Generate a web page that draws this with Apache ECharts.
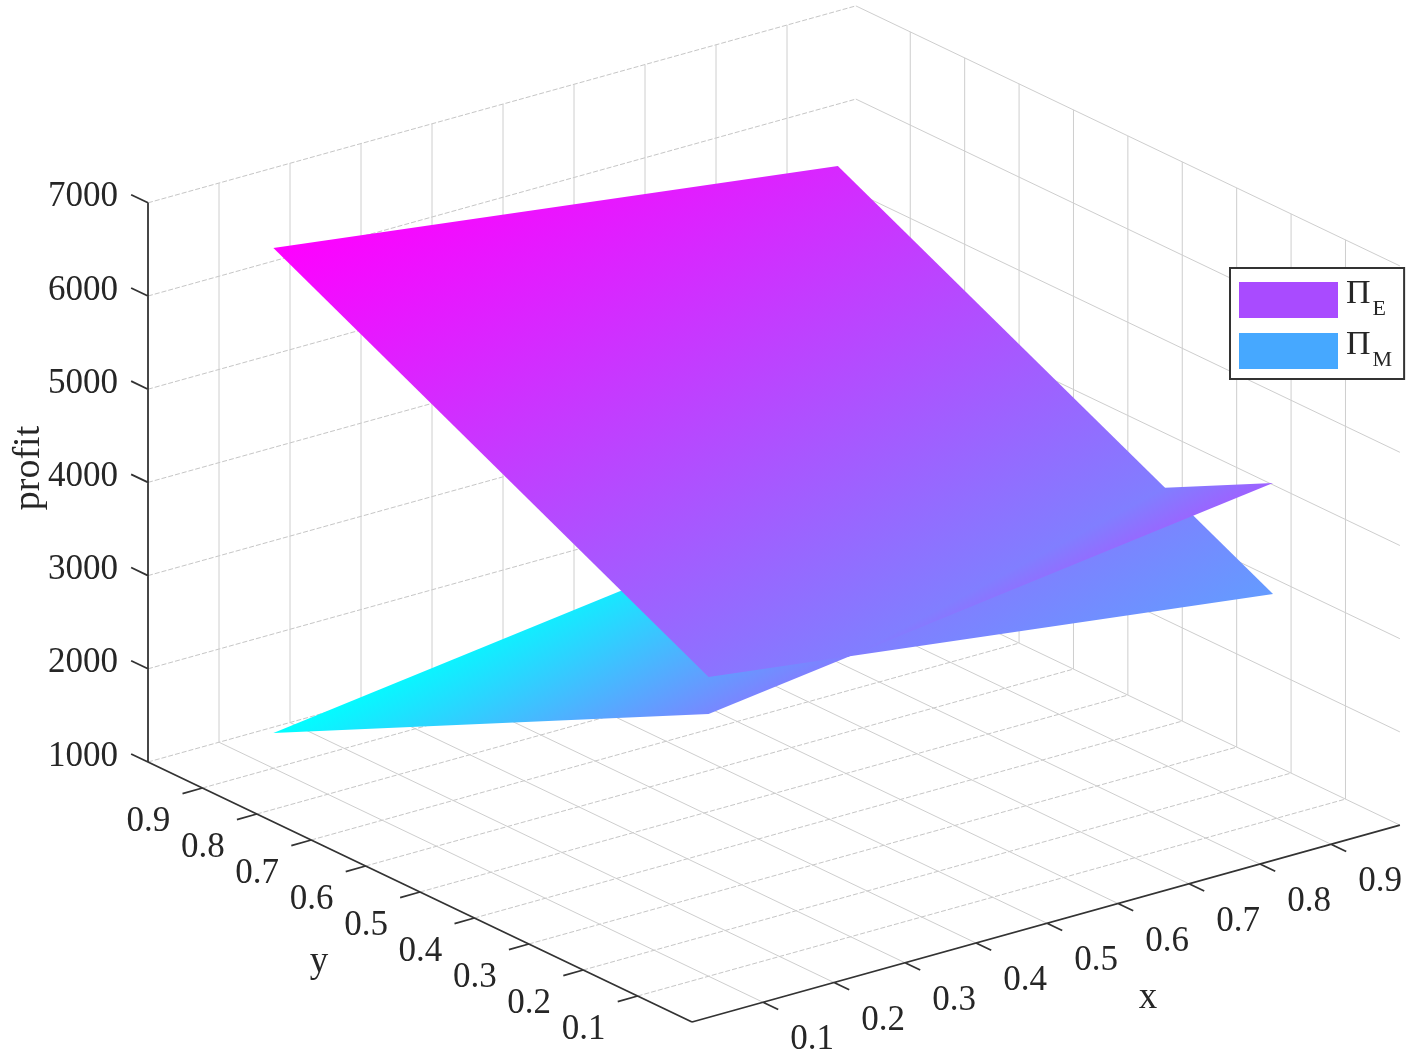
<!DOCTYPE html>
<html>
<head>
    <meta charset="utf-8" />
    <title>profit</title>
    <script src="https://cdn.jsdelivr.net/npm/echarts@6/dist/echarts.min.js"></script>
    <style>
        html, body { margin: 0; padding: 0; background: #fff; }
        #container { width: 1418px; height: 1057px; }
    </style>
</head>
<body>
    <div id="container"></div>
    <script>
    // tick values of the three axes
    var xTicks = [0.1, 0.2, 0.3, 0.4, 0.5, 0.6, 0.7, 0.8, 0.9];
    var yTicks = [0.1, 0.2, 0.3, 0.4, 0.5, 0.6, 0.7, 0.8, 0.9];
    var zTicks = [1000, 2000, 3000, 4000, 5000, 6000, 7000];

    // surface grid, rows follow surfY and columns follow surfX
    var surfX = [0.1, 0.895];
    var surfY = [0.1, 0.9];
    var profitE = [[4211, 3416], [6582, 5777]];
    var profitM = [[3814, 4607], [1378, 2171]];

    var FONT = '"Liberation Serif", "Times New Roman", serif';
    var TEXT = '#262626';
    var X_END = 0.997;

    // fixed MATLAB style view, x/y/z to page pixels
    function project(x, y, z) {
        return [
            692 + 710 * x - 544 * y,
            1022 - 197.5 * x - 260 * y - (z - 1000) * 0.0932
        ];
    }

    function segs(pairs) {
        var out = [];
        pairs.forEach(function (p) {
            out.push(project(p[0], p[1], p[2]), project(p[3], p[4], p[5]), [null, null]);
        });
        return out;
    }

    function lineSeries(data, color, width, type) {
        return {
            type: 'line', data: data, symbol: 'none', silent: true, animation: false,
            z: 1, clip: false,
            lineStyle: { color: color, width: width, type: type || 'solid' }
        };
    }

    // grid lines
    var gridAlongX = [], gridAlongY = [];
    yTicks.forEach(function (y) { gridAlongX.push([0, y, 1000, X_END, y, 1000]); });
    zTicks.forEach(function (z) {
        gridAlongX.push([0, 1, z, X_END, 1, z]);
        gridAlongY.push([X_END, 1, z, X_END, 0, z]);
    });
    xTicks.forEach(function (x) {
        gridAlongY.push([x, 0, 1000, x, 1, 1000]);
        gridAlongY.push([x, 1, 1000, x, 1, 7000]);
    });
    yTicks.forEach(function (y) { gridAlongY.push([X_END, y, 1000, X_END, y, 7000]); });

    // axis lines and ticks
    var axisLines = [
        [0, 1, 7000, 0, 1, 1000],
        [0, 1, 1000, 0, 0, 1000],
        [0, 0, 1000, X_END, 0, 1000]
    ];
    zTicks.forEach(function (z) { axisLines.push([0, 1, z, 0, 1.031, z]); });
    yTicks.forEach(function (y) { axisLines.push([0, y, 1000, -0.028, y, 1000]); });
    xTicks.forEach(function (x) { axisLines.push([x, 0, 1000, x, -0.028, 1000]); });

    // corners of a surface in drawing order
    function corners(zs) {
        return [
            [surfX[0], surfY[0], zs[0][0]],
            [surfX[1], surfY[0], zs[0][1]],
            [surfX[1], surfY[1], zs[1][1]],
            [surfX[0], surfY[1], zs[1][0]]
        ];
    }

    var cornersE = corners(profitE);
    var cornersM = corners(profitM);
    var diff = cornersM.map(function (c, i) { return c[2] - cornersE[i][2]; });

    // cut M where it crosses E, sign 1 keeps the part above E
    function cutM(sign) {
        var out = [];
        for (var i = 0; i < 4; i++) {
            var j = (i + 1) % 4, a = diff[i] * sign, b = diff[j] * sign;
            if (a >= 0) out.push(cornersM[i]);
            if ((a >= 0) !== (b >= 0)) {
                var t = a / (a - b);
                out.push(cornersM[i].map(function (v, k) { return v + (cornersM[j][k] - v) * t; }));
            }
        }
        return out;
    }

    var allZ = profitE.concat(profitM).reduce(function (s, r) { return s.concat(r); }, []);
    var zMin = Math.min.apply(null, allZ), zMax = Math.max.apply(null, allZ);

    // cool colormap, profit is linear on screen on a flat piece so one gradient is enough
    function coolFill(poly, pts) {
        var ax = pts[1][0] - pts[0][0], ay = pts[1][1] - pts[0][1];
        var bx = pts[2][0] - pts[0][0], by = pts[2][1] - pts[0][1];
        var dz1 = poly[1][2] - poly[0][2], dz2 = poly[2][2] - poly[0][2];
        var det = ax * by - bx * ay;
        var gx = (dz1 * by - dz2 * ay) / det, gy = (ax * dz2 - bx * dz1) / det;
        var g2 = gx * gx + gy * gy;
        var s = (zMin - poly[0][2]) / g2, e = (zMax - poly[0][2]) / g2;
        return new echarts.graphic.LinearGradient(
            pts[0][0] + gx * s, pts[0][1] + gy * s, pts[0][0] + gx * e, pts[0][1] + gy * e,
            [{ offset: 0, color: '#00ffff' }, { offset: 1, color: '#ff00ff' }], true
        );
    }

    function surfaceSeries(name, poly, z) {
        return {
            type: 'custom', name: name, coordinateSystem: 'cartesian2d', silent: true,
            animation: false, clip: false, z: z, data: [[0, 0]],
            renderItem: function (params, api) {
                var pts = poly.map(function (p) { return api.coord(project(p[0], p[1], p[2])); });
                return { type: 'polygon', shape: { points: pts }, style: { fill: coolFill(poly, pts) } };
            }
        };
    }

    // text at a projected spot plus a pixel offset
    function textSeries(rows, opt) {
        return {
            type: 'custom', coordinateSystem: 'cartesian2d', silent: true, animation: false,
            clip: false, z: 5,
            data: rows.map(function (r) { return [r[0], r[1]]; }),
            renderItem: function (params, api) {
                var c = api.coord([api.value(0), api.value(1)]);
                return {
                    type: 'text', x: c[0], y: c[1], rotation: opt.rotation || 0,
                    style: {
                        text: rows[params.dataIndex][2], fill: TEXT, align: opt.align || 'center',
                        verticalAlign: 'middle', fontFamily: FONT, fontSize: opt.size
                    }
                };
            }
        };
    }

    var zLabels = zTicks.map(function (z) {
        var p = project(0, 1, z);
        return [p[0] - 30, p[1] - 5.5, String(z)];
    });
    var yLabels = yTicks.map(function (y) {
        var p = project(0, y, 1000);
        return [p[0] - 54, p[1] + 34, y.toFixed(1)];
    });
    var xLabels = xTicks.map(function (x) {
        var p = project(x, 0, 1000);
        return [p[0] + 49, p[1] + 38, x.toFixed(1)];
    });

    var myChart = echarts.init(document.getElementById('container'), null, { renderer: 'canvas' });
    var option = {
        backgroundColor: '#fff',
        animation: false,
        grid: { left: 0, right: 0, top: 0, bottom: 0 },
        xAxis: { type: 'value', min: 0, max: 1418, show: false },
        yAxis: { type: 'value', min: 0, max: 1057, inverse: true, show: false },
        legend: {
            left: 1230, top: 268, orient: 'vertical', selectedMode: false,
            backgroundColor: '#fff', borderColor: '#333', borderWidth: 2, borderRadius: 0,
            padding: [9, 12, 8, 9], itemGap: 8, itemWidth: 99, itemHeight: 36, icon: 'rect',
            data: [
                { name: 'ΠE', itemStyle: { color: '#a94bff' } },
                { name: 'ΠM', itemStyle: { color: '#46a8ff' } }
            ],
            formatter: function (name) { return '{pi|Π}{sub|' + name.charAt(1) + '}'; },
            textStyle: {
                rich: {
                    pi: { fontFamily: FONT, fontSize: 34, color: TEXT, padding: [0, 2, 12, 3] },
                    sub: { fontFamily: FONT, fontSize: 22, color: TEXT, padding: [18, 0, 0, 0] }
                }
            }
        },
        series: [
            lineSeries(segs(gridAlongX), '#c6c6c6', 1, [5, 2]),
            lineSeries(segs(gridAlongY), '#cecece', 1),
            surfaceSeries('ΠM', cutM(-1), 2),
            surfaceSeries('ΠE', cornersE, 3),
            surfaceSeries('ΠM', cutM(1), 4),
            lineSeries(segs(axisLines), '#333333', 1.8),
            textSeries(zLabels, { size: 35, align: 'right' }),
            textSeries(yLabels, { size: 35 }),
            textSeries(xLabels, { size: 35 }),
            textSeries([[29, 468, 'profit']], { size: 38, rotation: Math.PI / 2 }),
            textSeries([[319, 962, 'y']], { size: 37 }),
            textSeries([[1148, 998, 'x']], { size: 37 })
        ]
    };
    myChart.setOption(option, true);
    </script>
</body>
</html>
